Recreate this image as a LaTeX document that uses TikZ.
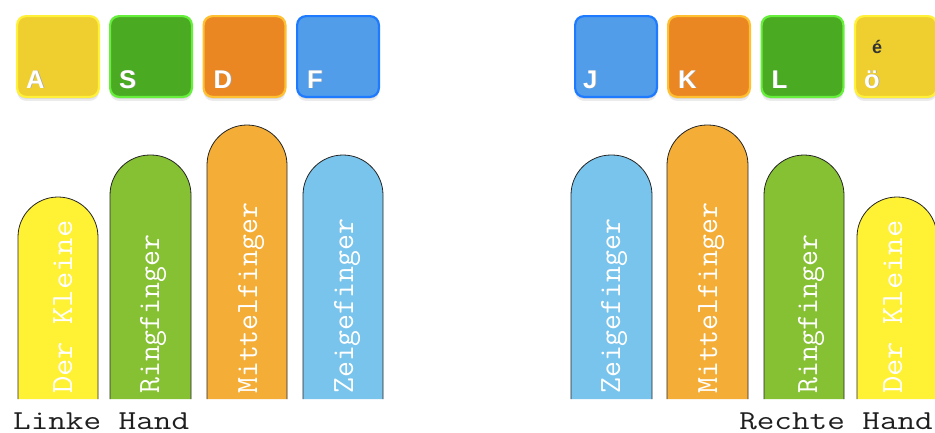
\documentclass[tikz,border=0pt]{standalone}
\usepackage{fontspec}
\usepackage{graphicx}
\setmainfont{Liberation Sans}
\definecolor{kyf}{HTML}{EFCF2F}\definecolor{kyb}{HTML}{FFF03A}
\definecolor{kgf}{HTML}{4AAA22}\definecolor{kgb}{HTML}{66F03C}
\definecolor{kof}{HTML}{EB8723}\definecolor{kob}{HTML}{FFC032}
\definecolor{kbf}{HTML}{519DEA}\definecolor{kbb}{HTML}{1E7BFF}
\definecolor{fy}{HTML}{FFF133}\definecolor{fg}{HTML}{86C033}
\definecolor{fo}{HTML}{F4AE37}\definecolor{fb}{HTML}{79C4EC}
\newcommand\klet[1]{\rlap{\raisebox{-0.8pt}{\hspace{0.7pt}\textcolor{black!35}{#1}}}#1}
\newcommand\nodepth[1]{\raisebox{0pt}[\height][0pt]{#1}}
\tikzset{
  keybox/.style 2 args={draw=#2, fill=#1, line width=2.2pt, rounded corners=9pt,
    minimum width=81.8pt, minimum height=80.8pt, inner sep=0pt,
    preaction={fill=black!8, transform canvas={yshift=-4pt}},
    preaction={fill=black!14, transform canvas={yshift=-2pt}}},
  keylabel/.style={text=white, font=\bfseries\fontsize{25.5}{26}\selectfont, anchor=base west, inner sep=0pt},
  fingerbody/.style={draw=black!85, line width=0.8pt, rounded corners=40pt},
  fingertext/.style={text=white, font=\ttfamily\fontsize{30.9}{31}\selectfont, rotate=90, anchor=base west, inner sep=0pt},
  handlabel/.style={text=black!88, font=\ttfamily\fontsize{33}{33}\selectfont, inner sep=0pt}
}
\begin{document}
\begin{tikzpicture}[x=1pt,y=-1pt]
\clip (0,0) rectangle (935,432);
\fill[white] (0,0) rectangle (935,432);
% keys
\node[keybox={kyf}{kyb}] (kA) at (58,56.5) {};
\node[keybox={kgf}{kgb}] (kS) at (151,56.5) {};
\node[keybox={kof}{kob}] (kD) at (244.5,56.5) {};
\node[keybox={kbf}{kbb}] (kF) at (338,56.5) {};
\node[keybox={kbf}{kbb}] (kJ) at (616,56.5) {};
\node[keybox={kof}{kob}] (kK) at (709,56.5) {};
\node[keybox={kgf}{kgb}] (kL) at (802.5,56.5) {};
\node[keybox={kyf}{kyb}] (kO) at (896,56.5) {};
\node[keylabel] (lA) at ([shift={(10,-10)}]kA.south west) {\klet{A}};
\node[keylabel] (lS) at ([shift={(10,-10)}]kS.south west) {\klet{S}};
\node[keylabel] (lD) at ([shift={(11,-10)}]kD.south west) {\klet{D}};
\node[keylabel] (lF) at ([shift={(11,-10)}]kF.south west) {\klet{F}};
\node[keylabel] (lJ) at ([shift={(9,-10)}]kJ.south west) {\klet{J}};
\node[keylabel] (lK) at ([shift={(11,-10)}]kK.south west) {\klet{K}};
\node[keylabel] (lL) at ([shift={(11,-10)}]kL.south west) {\klet{L}};
\node[keylabel] (lO) at ([shift={(10,-10)}]kO.south west) {\klet{ö}};
\node[text=black!80, font=\bfseries\fontsize{18}{18}\selectfont, anchor=base west, inner sep=0pt] (lE) at (872,53) {é};
% fingers
\filldraw[fingerbody, fill=fy] (18,399) -- (18,197) -- (98,197) -- (98,399);
\filldraw[fingerbody, fill=fg] (110,399) -- (110,155) -- (191,155) -- (191,399);
\filldraw[fingerbody, fill=fo] (207,399) -- (207,125) -- (287,125) -- (287,399);
\filldraw[fingerbody, fill=fb] (303,399) -- (303,155) -- (383,155) -- (383,399);
\filldraw[fingerbody, fill=fb] (571,399) -- (571,155) -- (652,155) -- (652,399);
\filldraw[fingerbody, fill=fo] (667,399) -- (667,125) -- (748,125) -- (748,399);
\filldraw[fingerbody, fill=fg] (764,399) -- (764,155) -- (844,155) -- (844,399);
\filldraw[fingerbody, fill=fy] (857,399) -- (857,197) -- (937,197) -- (937,399);
\node[fingertext] (t1) at (72,394) {\scalebox{1.09}[1]{Der Kleine}};
\node[fingertext] (t2) at (159,394) {Ringfinger};
\node[fingertext] (t3) at (257,394) {Mittelfinger};
\node[fingertext] (t4) at (353,394) {Zeigefinger};
\node[fingertext] (t5) at (620,394) {Zeigefinger};
\node[fingertext] (t6) at (717,394) {Mittelfinger};
\node[fingertext] (t7) at (817,394) {Ringfinger};
\node[fingertext] (t8) at (902,394) {\scalebox{1.09}[1]{Der Kleine}};
% hand labels
\node[handlabel, anchor=base west] (lh) at (13,429) {\nodepth{\scalebox{1.035}[0.83]{Linke Hand}}};
\node[handlabel, anchor=base east] (rh) at (933,429) {\nodepth{\scalebox{1.035}[0.83]{Rechte Hand}}};
\end{tikzpicture}
\end{document}
